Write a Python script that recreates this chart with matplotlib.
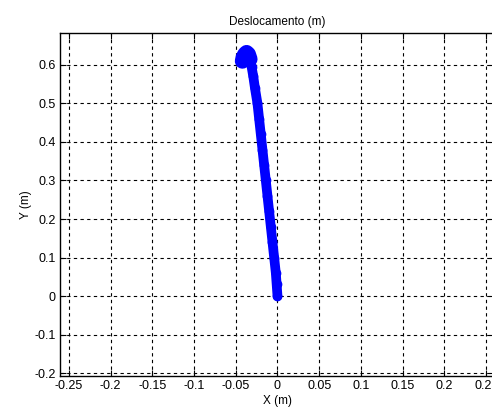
import matplotlib.pyplot as plt

# Trajectory (metres)
x_pos = [0.000, -0.001, -0.002, -0.004, -0.006, -0.008, -0.010, -0.012, -0.014,
         -0.016, -0.018, -0.020, -0.022, -0.024, -0.027, -0.029, -0.031, -0.033,
         -0.035, -0.037, -0.039, -0.041, -0.042]
y_pos = [0.000, 0.030, 0.060, 0.100, 0.140, 0.180, 0.220, 0.260, 0.300,
         0.340, 0.380, 0.420, 0.460, 0.500, 0.540, 0.570, 0.595, 0.615,
         0.628, 0.632, 0.628, 0.620, 0.610]

x_ticks = [-0.25, -0.2, -0.15, -0.1, -0.05, 0, 0.05, 0.1, 0.15, 0.2, 0.25]
x_labels = ['-0.25', '-0.2', '-0.15', '-0.1', '-0.05', '0', '0.05', '0.1', '0.15', '0.2', '0.25']
y_ticks = [-0.2, -0.1, 0, 0.1, 0.2, 0.3, 0.4, 0.5, 0.6]
y_labels = ['-0.2', '-0.1', '0', '0.1', '0.2', '0.3', '0.4', '0.5', '0.6']

plt.rcParams['font.family'] = ['Liberation Sans', 'DejaVu Sans']
plt.rcParams['font.size'] = 9

fig = plt.figure(figsize=(4.92, 4.12), dpi=100)
ax = fig.add_axes([0.122, 0.087, 0.884, 0.833])

ax.plot(x_pos, y_pos, '-', color='#0000ff', linewidth=7, solid_capstyle='round',
        solid_joinstyle='round', zorder=3)
ax.plot(x_pos, y_pos, 'o', color='#0000ff', markersize=7, markerfacecolor='#0000ff',
        markeredgewidth=0, zorder=4)
# heavier blob where the path turns at the top
ax.plot(x_pos[-6:], y_pos[-6:], '-', color='#0000ff', linewidth=11,
        solid_capstyle='round', solid_joinstyle='round', zorder=3)

ax.set_xlim(-0.2605, 0.2605)
ax.set_ylim(-0.208, 0.683)
ax.set_xticks(x_ticks)
ax.set_xticklabels(x_labels)
ax.set_yticks(y_ticks)
ax.set_yticklabels(y_labels)
ax.tick_params(direction='in', length=4, width=0.8, pad=3)
ax.tick_params(top=True, right=True)

ax.grid(True, color='black', linestyle=(0, (3, 3)), linewidth=0.8)
for s in ax.spines.values():
    s.set_linewidth(1.0)

ax.set_title('Deslocamento (m)', fontsize=8.5, pad=6)
ax.set_xlabel('X (m)', fontsize=8.5, labelpad=2)
ax.set_ylabel('Y (m)', fontsize=8.5, labelpad=2)

fig.savefig('out.png', dpi=100)
